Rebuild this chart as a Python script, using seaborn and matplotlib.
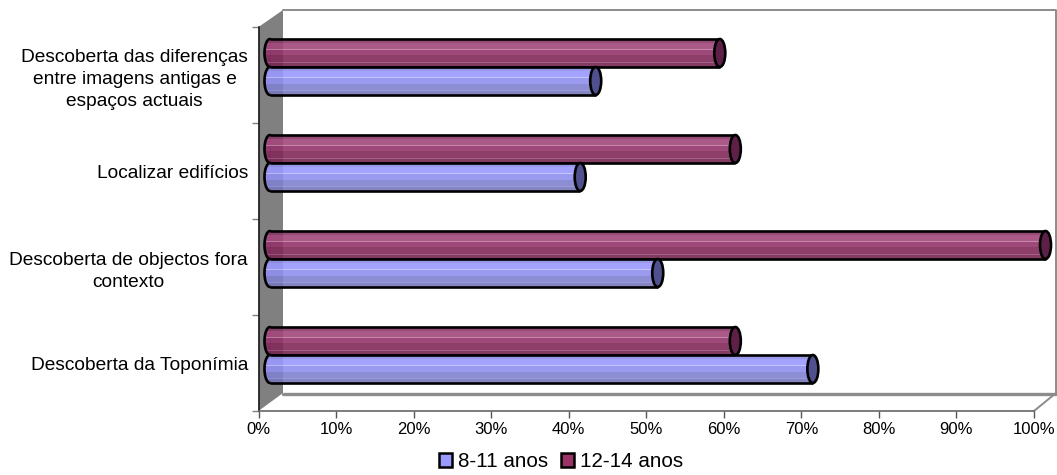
import numpy as np
import pandas as pd
import matplotlib
matplotlib.use("Agg")
import matplotlib.pyplot as plt
from matplotlib.colors import to_rgba
from matplotlib.patches import Ellipse, Patch, Polygon
from matplotlib.lines import Line2D
from matplotlib.ticker import PercentFormatter
from matplotlib.transforms import Affine2D
import seaborn as sns

categories = ["Descoberta das diferenças\nentre imagens antigas e\nespaços actuais",
              "Localizar edifícios",
              "Descoberta de objectos fora\ncontexto",
              "Descoberta da Toponímia"]
series_names = ["8-11 anos", "12-14 anos"]
values_8_11 = [42, 40, 50, 70]
values_12_14 = [58, 60, 100, 60]

W, H, DPI = 1057, 475, 100
sns.set_theme(style="white")
plt.rcParams["font.family"] = ["Liberation Sans", "DejaVu Sans"]

df = pd.DataFrame({
    "cat": categories * 2,
    "serie": [series_names[0]] * 4 + [series_names[1]] * 4,
    "val": values_8_11 + values_12_14,
})

fig = plt.figure(figsize=(W / DPI, H / DPI), dpi=DPI, facecolor="white")
L, R, T, B = 258.5, 1034.0, 27.0, 411.0
ax = fig.add_axes([L / W, 1 - B / H, (R - L) / W, (B - T) / H])
ax.patch.set_alpha(0)

colors = {series_names[0]: "#9999ff", series_names[1]: "#993366"}
sns.barplot(df, y="cat", x="val", hue="serie", order=categories,
            hue_order=[series_names[1], series_names[0]], palette=colors,
            width=0.583, legend=False, ax=ax, saturation=1)
ax.set_xlim(0, 100)
ax.set_ylim(3.5, -0.5)
ax.set_xlabel("")
ax.set_ylabel("")


def fp(x, y):
    return (x / W, 1 - y / H)


GRAY = "#8c8c8c"
ax.add_patch(Polygon([fp(258.5, 27), fp(283, 10), fp(283, 393), fp(258.5, 411)],
                     closed=True, transform=fig.transFigure, fc="#808080", ec="none",
                     clip_on=False, zorder=0.5))
for pts, lw in [([(283, 10), (1056, 10), (1056, 393)], 1.4),
                ([(283, 393.5), (1056, 393.5)], 2.4),
                ([(1034, 411), (1056, 393)], 1.4)]:
    xs, ys = zip(*[fp(*p) for p in pts])
    ax.add_line(Line2D(xs, ys, transform=fig.transFigure, color=GRAY, lw=lw,
                       clip_on=False, zorder=0.6))

# depth offset of the bars inside the 3D box, in pixels
tr = ax.transData + Affine2D().translate(11.5, 8)

crimson_rows = (["#8a3866"] * 4 + ["#a2467a"] * 6 + ["#c17aa0"] + ["#92346a"] * 5 +
                ["#802858"] * 7 + ["#9a4a75"] + ["#762650"] * 4)
blue_rows = (["#8f8fe6"] * 4 + ["#9999ff"] * 6 + ["#c0c0ff"] + ["#8f8ff0"] * 6 +
             ["#8080d0"] * 6 + ["#9090d8"] + ["#7777bb"] * 4)
styles = {series_names[1]: (crimson_rows, "#5f2048"),
          series_names[0]: (blue_rows, "#50508f")}

cap_w = 11 / ((R - L) / 100)
theta = np.linspace(np.pi / 2, 3 * np.pi / 2, 40)
for cont_i, cont in enumerate(ax.containers):
    name = [series_names[1], series_names[0]][cont_i]
    rows, cap = styles[name]
    img = np.array([[to_rgba(c, 0.9)] for c in rows])
    for bar in cont:
        x0, w = bar.get_x(), bar.get_width()
        y0, h = bar.get_y(), bar.get_height()
        yc = y0 + h / 2
        z = 2 + cont_i * 0.1
        bar.set_transform(tr)
        bar.set_clip_on(False)
        bar.set_facecolor("none")
        bar.set_edgecolor("none")
        # rounded start of the cylinder
        clip = Ellipse((x0, yc), cap_w, h, transform=tr, fc="none", ec="none")
        ax.add_patch(clip)
        im_left = ax.imshow(img, extent=(x0 - cap_w / 2, x0, y0 + h, y0), aspect="auto",
                            transform=tr, zorder=z, interpolation="nearest")
        im_left.set_clip_path(clip)
        ax.imshow(img, extent=(x0, x0 + w, y0 + h, y0), aspect="auto",
                  transform=tr, zorder=z + 0.01, interpolation="nearest", clip_on=False)
        ax.plot(x0 + cap_w / 2 * np.cos(theta), yc + h / 2 * np.sin(theta), color="black",
                lw=1.9, transform=tr, clip_on=False, zorder=z + 0.02)
        ax.hlines([y0, y0 + h], x0, x0 + w, colors="black", lw=1.9, transform=tr,
                  clip_on=False, zorder=z + 0.02)
        ax.add_patch(Ellipse((x0 + w, yc), cap_w, h, transform=tr, fc=cap, ec="black",
                             lw=1.9, clip_on=False, zorder=z + 0.03))
ax.set_xlim(0, 100)
ax.set_ylim(3.5, -0.5)
ax.set_aspect("auto")

sns.despine(ax=ax, top=True, right=True)
ax.spines["left"].set_color("#111111")
ax.spines["left"].set_linewidth(1.1)
ax.spines["bottom"].set_color("#666666")
ax.spines["bottom"].set_linewidth(1.2)
ax.spines["left"].set_zorder(1)

ax.set_xticks(np.arange(0, 101, 10))
ax.xaxis.set_major_formatter(PercentFormatter(100, decimals=0))
ax.tick_params(axis="x", bottom=True, length=5, width=1, color="#555555",
               labelsize=12, labelcolor="black", pad=3)
ax.set_yticks(range(4))
ax.set_yticklabels(categories, multialignment="center", linespacing=1.4)
ax.set_yticks(np.arange(-0.5, 4), minor=True)
ax.tick_params(axis="y", which="major", length=0, labelsize=13.75, labelcolor="black", pad=7.6)
ax.tick_params(axis="y", which="minor", left=True, length=5, width=1, color="#808080")
ax.grid(False)

handles = [Patch(fc=colors[n], ec="black", lw=1.8) for n in series_names]
fig.legend(handles, series_names, loc="center", bbox_to_anchor=fp(561, 461.5), ncols=2,
           frameon=False, fontsize=14.9, handlelength=0.64, handleheight=0.64,
           handletextpad=0.28, columnspacing=0.6, borderpad=0, labelcolor="black")

fig.savefig("out.png", dpi=DPI, facecolor="white")
